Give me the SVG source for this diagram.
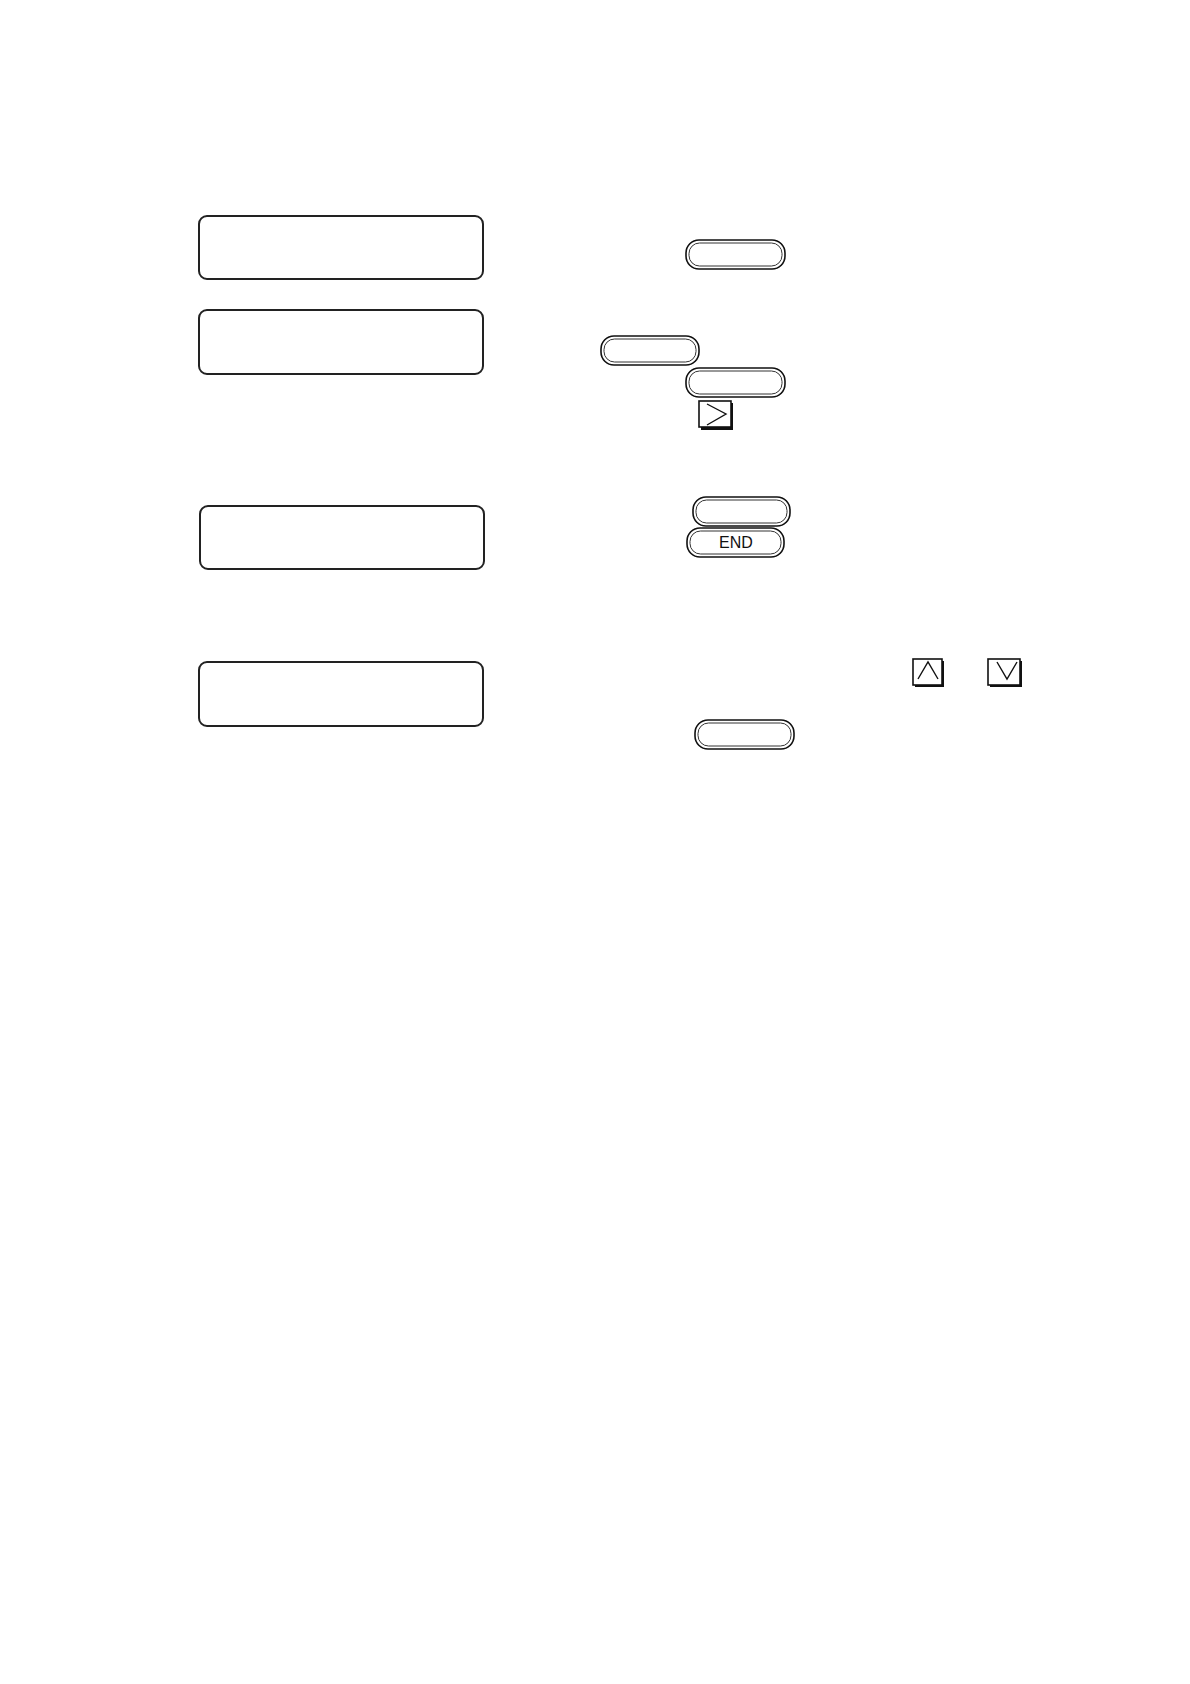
<svg xmlns="http://www.w3.org/2000/svg" width="1190" height="1684" viewBox="0 0 1190 1684">
<style>
.lcd{fill:#fff;stroke:#222;stroke-width:2}
.bo{fill:#fff;stroke:#111;stroke-width:1.6}
.bi{fill:none;stroke:#333;stroke-width:1}
.ks{fill:#111}
.kb{fill:#fff;stroke:#111;stroke-width:1.6}
.ch{fill:none;stroke:#111;stroke-width:1.4}
.t{font-family:"Liberation Sans",Arial,sans-serif;font-size:16px;fill:#111;text-anchor:middle}
</style>
<rect width="1190" height="1684" fill="#fff"/>
<g id="lcd1"><rect class="lcd" x="199" y="216" width="284" height="63" rx="8"/></g>
<g id="lcd2"><rect class="lcd" x="199" y="310" width="284" height="64" rx="8"/></g>
<g id="lcd3"><rect class="lcd" x="200" y="506" width="284" height="63" rx="8"/></g>
<g id="lcd4"><rect class="lcd" x="199" y="662" width="284" height="64" rx="8"/></g>
<g id="btn1"><rect class="bo" x="686" y="240" width="99" height="29" rx="13"/><rect class="bi" x="689" y="243" width="93" height="23" rx="10.5"/></g>
<g id="btn2"><rect class="bo" x="601" y="336" width="98" height="29" rx="13"/><rect class="bi" x="604" y="339" width="92" height="23" rx="10.5"/></g>
<g id="btn3"><rect class="bo" x="686" y="368" width="99" height="29" rx="13"/><rect class="bi" x="689" y="371" width="93" height="23" rx="10.5"/></g>
<g id="keyRight"><rect class="ks" x="701" y="403" width="32" height="27"/><rect class="kb" x="699" y="401" width="32" height="26"/><polyline class="ch" points="707,404 726,414 707,425"/></g>
<g id="btn4"><rect class="bo" x="693" y="497" width="97" height="29" rx="13"/><rect class="bi" x="696" y="500" width="91" height="23" rx="10.5"/></g>
<g id="btnEnd"><rect class="bo" x="687" y="528" width="97" height="29" rx="13"/><rect class="bi" x="690" y="531" width="91" height="23" rx="10.5"/><text class="t" x="736" y="548">END</text></g>
<g id="keyUp"><rect class="ks" x="915" y="661" width="29" height="26"/><rect class="kb" x="913" y="659" width="29" height="26"/><polyline class="ch" points="918,679 928,662 938,679"/></g>
<g id="keyDown"><rect class="ks" x="990" y="661" width="32" height="26"/><rect class="kb" x="988" y="659" width="32" height="26"/><polyline class="ch" points="997,662 1007,679 1017,662"/></g>
<g id="btn5"><rect class="bo" x="695" y="720" width="99" height="29" rx="13"/><rect class="bi" x="698" y="723" width="93" height="23" rx="10.5"/></g>
<g id="connectors"></g>
</svg>
